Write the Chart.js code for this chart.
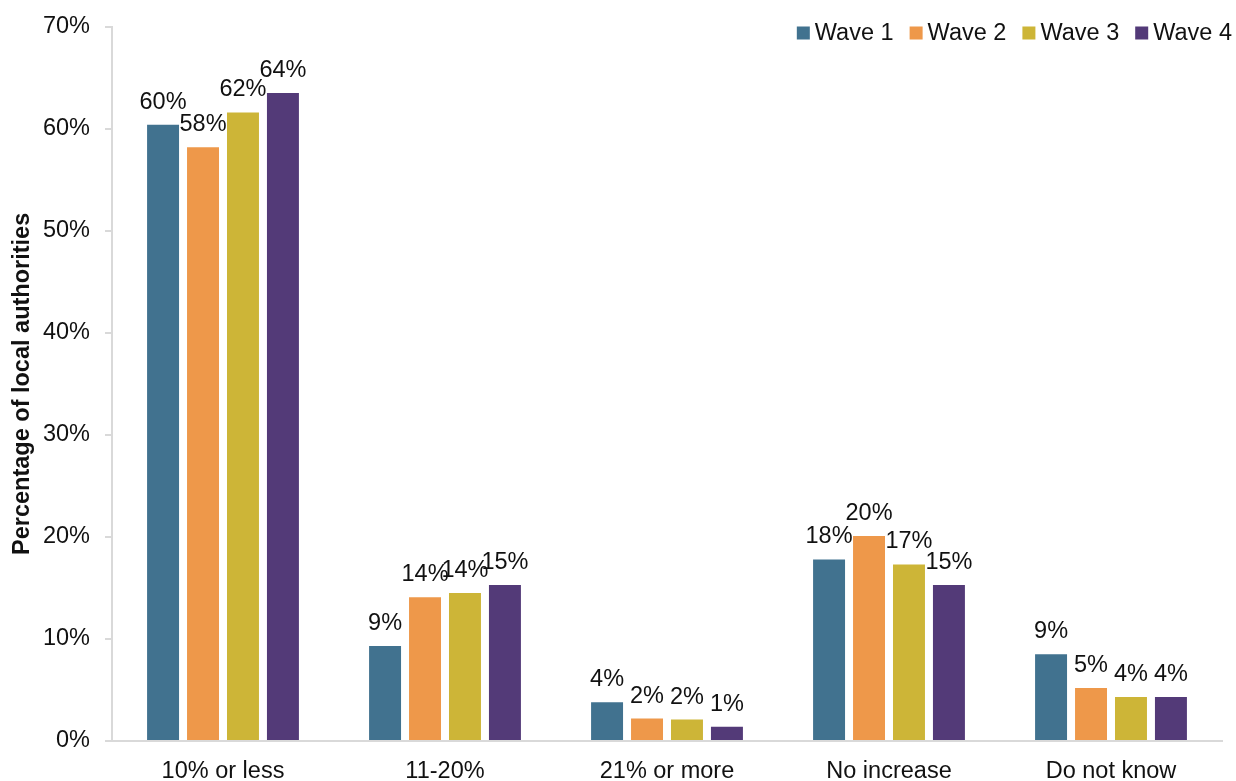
<!DOCTYPE html>
<html>
<head>
<meta charset="utf-8">
<script src="https://cdn.jsdelivr.net/npm/chart.js@4.4.1/dist/chart.umd.min.js"></script>
<style>
  html, body { margin: 0; padding: 0; background: #fff; }
  #wrap { width: 1236px; height: 781px; }
</style>
</head>
<body>
<div id="wrap"><canvas id="chart"></canvas></div>
<script>
const categories = ['10% or less', '11-20%', '21% or more', 'No increase', 'Do not know'];

const wave1 = [60.4, 9.3, 3.8, 17.8, 8.5];
const wave2 = [58.2, 14.1, 2.2, 20.1, 5.2];
const wave3 = [61.6, 14.5, 2.1, 17.3, 4.3];
const wave4 = [63.5, 15.3, 1.4, 15.3, 4.3];

// labels as printed on the chart
const wave1Labels = ['60%', '9%', '4%', '18%', '9%'];
const wave2Labels = ['58%', '14%', '2%', '20%', '5%'];
const wave3Labels = ['62%', '14%', '2%', '17%', '4%'];
const wave4Labels = ['64%', '15%', '1%', '15%', '4%'];

const yTicks = [0, 10, 20, 30, 40, 50, 60, 70];

const FONT = '"Liberation Sans", Arial, sans-serif';
Chart.defaults.font.family = FONT;
Chart.defaults.font.size = 23.5;
Chart.defaults.color = '#111';

const barLabels = {
    id: 'barLabels',
    afterDatasetsDraw(chart) {
        const ctx = chart.ctx;
        ctx.save();
        ctx.font = '23.5px ' + FONT;
        ctx.fillStyle = '#111';
        ctx.textAlign = 'center';
        ctx.textBaseline = 'alphabetic';
        chart.data.datasets.forEach((ds, i) => {
            const meta = chart.getDatasetMeta(i);
            meta.data.forEach((bar, j) => {
                ctx.fillText(ds.labels[j], bar.x, bar.y - 16);
            });
        });
        ctx.restore();
    }
};

// legend drawn in the top right corner, over the plot
const topLegend = {
    id: 'topLegend',
    afterDraw(chart) {
        const ctx = chart.ctx;
        ctx.save();
        ctx.font = '23.5px ' + FONT;
        ctx.textBaseline = 'middle';
        ctx.textAlign = 'left';
        const box = 13, gap = 5, spacing = 16, cy = 33;
        const items = chart.data.datasets.map(ds => ({
            text: ds.label, color: ds.backgroundColor, w: ctx.measureText(ds.label).width
        }));
        let total = items.reduce((s, it) => s + box + gap + it.w, 0) + spacing * (items.length - 1);
        let x = 1232 - total;
        items.forEach(it => {
            ctx.fillStyle = it.color;
            ctx.fillRect(x, cy - 6.5, box, box);
            x += box + gap;
            ctx.fillStyle = '#111';
            ctx.fillText(it.text, x, cy + 1);
            x += it.w + spacing;
        });
        ctx.restore();
    }
};

function makeSet(label, data, labels, color) {
    return {
        label: label,
        data: data,
        labels: labels,
        backgroundColor: color,
        borderWidth: 0,
        categoryPercentage: 0.72,
        barPercentage: 0.8
    };
}

new Chart(document.getElementById('chart'), {
    type: 'bar',
    data: {
        labels: categories,
        datasets: [
            makeSet('Wave 1', wave1, wave1Labels, '#41728f'),
            makeSet('Wave 2', wave2, wave2Labels, '#ee984a'),
            makeSet('Wave 3', wave3, wave3Labels, '#cdb537'),
            makeSet('Wave 4', wave4, wave4Labels, '#533a78')
        ]
    },
    options: {
        responsive: true,
        maintainAspectRatio: false,
        animation: false,
        layout: {
            padding: {top: 0, right: 14, left: 8, bottom: 0}
        },
        plugins: {
            legend: {display: false},
            tooltip: {enabled: false}
        },
        scales: {
            x: {
                grid: {display: false, drawTicks: false},
                border: {display: true, color: '#d9d9d9', width: 2},
                ticks: {padding: 19, font: {size: 23.5, lineHeight: 1}},
                afterFit: (axis) => { axis.height = 40; }
            },
            y: {
                min: 0,
                max: 70,
                afterBuildTicks: (axis) => {
                    axis.ticks = yTicks.map(v => ({value: v}));
                },
                afterFit: (axis) => { axis.width = 104; },
                grid: {
                    drawOnChartArea: false,
                    drawTicks: true,
                    tickLength: 7,
                    color: '#d9d9d9',
                    lineWidth: 2
                },
                border: {display: true, color: '#d9d9d9', width: 2},
                ticks: {
                    padding: 15,
                    font: {size: 23.5, lineHeight: 1},
                    callback: (v) => v + '%'
                },
                title: {
                    display: true,
                    text: 'Percentage of local authorities',
                    font: {size: 23.5, weight: 'bold'},
                    padding: {top: 0, bottom: 0}
                }
            }
        }
    },
    plugins: [barLabels, topLegend]
});
</script>
</body>
</html>
